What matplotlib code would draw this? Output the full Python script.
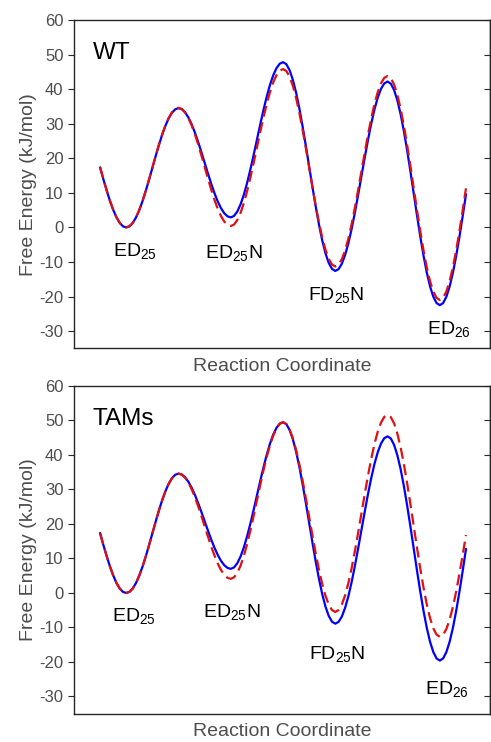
import matplotlib
matplotlib.use("Agg")
from matplotlib import pyplot as plt
import numpy as np

plt.rcParams['font.family'] = ['Liberation Sans', 'DejaVu Sans']
plt.rcParams['mathtext.fontset'] = 'custom'
plt.rcParams['mathtext.rm'] = 'Liberation Sans'
plt.rcParams['axes.unicode_minus'] = False

# reaction coordinate grid (arbitrary units, 0.5 .. 7.5)
x = np.linspace(0.5, 7.5, 113)

wt_blue = [17.3, 13.9, 10.7, 7.7, 5.1, 2.9, 1.3, 0.3, 0.0,
           0.33, 1.31, 2.91, 5.05, 7.67, 10.65, 13.89, 17.25, 20.61, 23.85, 26.83, 29.45, 31.59, 33.19, 34.17, 34.5,
           34.2, 33.3, 31.84, 29.87, 27.48, 24.75, 21.78, 18.7, 15.62, 12.65, 9.92, 7.53, 5.56, 4.10, 3.20, 2.9,
           3.33, 4.61, 6.68, 9.47, 12.88, 16.76, 20.97, 25.35, 29.73, 33.94, 37.82, 41.23, 44.01, 46.09, 47.37, 47.8,
           47.22, 45.50, 42.71, 38.96, 34.38, 29.15, 23.49, 17.6, 11.71, 6.05, 0.82, -3.76, -7.51, -10.30, -12.02, -12.6,
           -12.07, -10.51, -7.98, -4.58, -0.42, 4.32, 9.46, 14.8, 20.14, 25.28, 30.02, 34.18, 37.58, 40.11, 41.67, 42.2,
           41.58, 39.73, 36.75, 32.73, 27.82, 22.23, 16.16, 9.85, 3.54, -2.53, -8.12, -13.03, -17.05, -20.04, -21.88, -22.5,
           -21.89, -20.06, -17.10, -13.13, -8.28, -2.74, 3.26, 9.5]
wt_red = [17.4, 14.0, 10.74, 7.73, 5.09, 2.93, 1.33, 0.33, 0.0,
          0.33, 1.32, 2.92, 5.07, 7.69, 10.68, 13.93, 17.3, 20.67, 23.92, 26.91, 29.53, 31.68, 33.28, 34.27, 34.6,
          34.27, 33.30, 31.72, 29.59, 27.00, 24.04, 20.83, 17.5, 14.17, 10.96, 8.00, 5.41, 3.28, 1.70, 0.73, 0.4,
          0.84, 2.13, 4.23, 7.05, 10.49, 14.41, 18.67, 23.1, 27.53, 31.79, 35.71, 39.15, 41.97, 44.07, 45.36, 45.8,
          45.25, 43.62, 40.99, 37.44, 33.11, 28.17, 22.82, 17.25, 11.68, 6.33, 1.39, -2.94, -6.49, -9.12, -10.75, -11.3,
          -10.77, -9.20, -6.66, -3.23, 0.94, 5.71, 10.88, 16.25, 21.62, 26.79, 31.56, 35.73, 39.16, 41.70, 43.27, 43.8,
          43.18, 41.33, 38.34, 34.31, 29.40, 23.80, 17.72, 11.4, 5.08, -1.00, -6.60, -11.51, -15.54, -18.53, -20.38, -21.0,
          -20.38, -18.54, -15.55, -11.54, -6.65, -1.06, 5.00, 11.3]

tams_blue = [17.3, 13.9, 10.7, 7.7, 5.1, 2.9, 1.3, 0.3, 0.0,
             0.33, 1.32, 2.92, 5.07, 7.69, 10.68, 13.93, 17.3, 20.67, 23.92, 26.91, 29.53, 31.68, 33.28, 34.27, 34.6,
             34.34, 33.55, 32.27, 30.56, 28.47, 26.08, 23.49, 20.8, 18.11, 15.52, 13.13, 11.04, 9.33, 8.05, 7.26, 7.0,
             7.41, 8.62, 10.58, 13.22, 16.44, 20.12, 24.11, 28.25, 32.39, 36.38, 40.06, 43.28, 45.92, 47.88, 49.09, 49.5,
             48.94, 47.27, 44.58, 40.95, 36.52, 31.47, 25.99, 20.3, 14.61, 9.13, 4.08, -0.35, -3.98, -6.67, -8.34, -8.9,
             -8.38, -6.83, -4.32, -0.95, 3.17, 7.86, 12.96, 18.25, 23.54, 28.64, 33.33, 37.45, 40.82, 43.33, 44.88, 45.4,
             44.78, 42.92, 39.92, 35.88, 30.96, 25.33, 19.24, 12.9, 6.56, 0.47, -5.16, -10.08, -14.12, -17.12, -18.98, -19.6,
             -18.98, -17.14, -14.15, -10.14, -5.25, 0.34, 6.40, 12.7]
tams_red = [17.3, 13.9, 10.7, 7.7, 5.1, 2.9, 1.3, 0.3, 0.0,
            0.33, 1.32, 2.92, 5.07, 7.69, 10.68, 13.93, 17.3, 20.67, 23.92, 26.91, 29.53, 31.68, 33.28, 34.27, 34.6,
            34.31, 33.44, 32.03, 30.13, 27.82, 25.18, 22.32, 19.35, 16.38, 13.52, 10.88, 8.57, 6.67, 5.26, 4.39, 4.1,
            4.54, 5.83, 7.93, 10.75, 14.19, 18.11, 22.37, 26.8, 31.23, 35.49, 39.41, 42.85, 45.67, 47.77, 49.06, 49.5,
            48.97, 47.40, 44.86, 41.45, 37.28, 32.52, 27.36, 22.0, 16.64, 11.48, 6.72, 2.55, -0.86, -3.40, -4.97, -5.5,
            -4.95, -3.32, -0.69, 2.86, 7.19, 12.13, 17.48, 23.05, 28.62, 33.97, 38.91, 43.24, 46.79, 49.42, 51.05, 51.6,
            50.98, 49.15, 46.18, 42.19, 37.31, 31.75, 25.72, 19.45, 13.18, 7.15, 1.59, -3.29, -7.28, -10.25, -12.08, -12.7,
            -12.13, -10.45, -7.73, -4.06, 0.41, 5.51, 11.05, 16.8]

state_labels = ['ED$_{25}$', 'ED$_{25}$N', 'FD$_{25}$N', 'ED$_{26}$']
wt_label_x = [1.17, 3.05, 5.02, 7.17]
wt_label_y = [-7.1, -7.7, -19.9, -29.7]
tams_label_x = [1.14, 3.02, 5.04, 7.13]
tams_label_y = [-6.8, -5.8, -17.9, -28.2]

gray = '#4d4d4d'

fig = plt.figure(figsize=(4.91, 7.42), dpi=100)
ax_top = fig.add_axes([74 / 491, 1 - 348.4 / 742, 416 / 491, 328.4 / 742])
ax_bot = fig.add_axes([74 / 491, 1 - 713.7 / 742, 416 / 491, 327.7 / 742])

panels = [(ax_top, 'WT', wt_blue, wt_red, wt_label_x, wt_label_y),
          (ax_bot, 'TAMs', tams_blue, tams_red, tams_label_x, tams_label_y)]

for ax, name, blue, red, lx, ly in panels:
    ax.plot(x, blue, color='#0000ff', lw=1.6, zorder=2)
    ax.plot(x, red, color='#e01010', lw=1.6, dashes=(5, 2.5), zorder=3)
    ax.set_xlim(0, 7.96)
    ax.set_ylim(-35, 60)
    ax.set_yticks(range(-30, 61, 10))
    ax.set_xticks([])
    ax.tick_params(axis='y', direction='out', length=4, labelsize=12,
                   labelcolor=gray, color='#262626')
    right = ax.secondary_yaxis('right')
    right.set_yticks(range(-30, 61, 10))
    right.tick_params(direction='in', length=4, labelright=False, color='#262626')
    for sp in list(ax.spines.values()) + list(right.spines.values()):
        sp.set_color('#262626')
        sp.set_linewidth(1.0)
    ax.set_ylabel('Free Energy (kJ/mol)', fontsize=14, color=gray, labelpad=2)
    ax.set_xlabel('Reaction Coordinate', fontsize=14, color=gray, labelpad=7)
    ax.text(0.045, 0.9, name, transform=ax.transAxes, fontsize=17.5,
            ha='left', va='center', color='black')
    for t, tx, ty in zip(state_labels, lx, ly):
        ax.text(tx, ty, t, fontsize=14, ha='center', va='center', color='black')

fig.savefig('out.png', dpi=100)
